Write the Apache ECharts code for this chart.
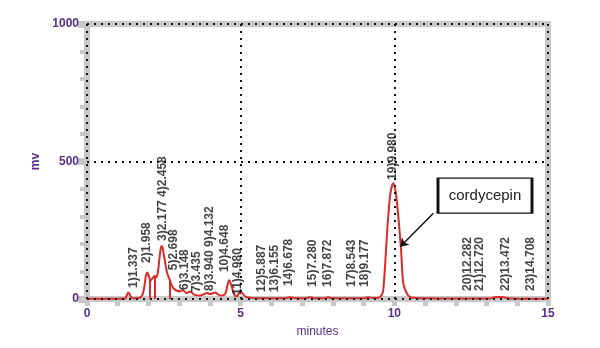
<!DOCTYPE html>
<html>
<head>
<meta charset="utf-8">
<script src="https://cdn.jsdelivr.net/npm/echarts@6/dist/echarts.min.js"></script>
<style>html,body{margin:0;padding:0;background:#fff;}#c{width:600px;height:348px;}</style>
</head>
<body>
<div id="c"></div>
<script>
// Chromatogram trace [minutes, mV]
var trace = [
  [0, 1], [1.2, 1], [1.26, 4], [1.31, 18], [1.345, 24], [1.38, 18], [1.44, 6], [1.52, 3], [1.62, 3], [1.72, 5],
  [1.80, 14], [1.86, 40], [1.91, 80], [1.96, 96], [2.0, 88], [2.04, 72], [2.08, 68], [2.13, 76], [2.18, 82],
  [2.22, 84], [2.27, 80], [2.32, 110], [2.37, 160], [2.42, 193], [2.45, 190], [2.50, 160], [2.55, 128],
  [2.60, 98], [2.66, 78], [2.70, 68], [2.75, 52], [2.81, 40], [2.92, 30], [3.03, 28], [3.10, 33], [3.17, 28],
  [3.24, 21], [3.30, 24], [3.35, 27], [3.42, 22], [3.51, 15], [3.68, 13], [3.80, 17], [3.90, 22], [4.0, 18],
  [4.08, 20], [4.17, 24], [4.25, 18], [4.33, 13], [4.45, 14], [4.52, 25], [4.58, 55], [4.63, 68], [4.68, 55],
  [4.76, 27], [4.84, 10], [4.90, 12], [4.96, 24], [5.0, 27], [5.05, 22], [5.14, 10], [5.30, 5], [5.6, 3],
  [6.0, 3], [6.45, 3], [6.6, 6], [6.75, 4], [7.1, 3], [7.26, 6], [7.4, 3], [7.75, 3], [7.85, 6], [7.95, 3],
  [8.5, 3], [9.0, 3], [9.15, 6], [9.3, 4], [9.45, 4], [9.53, 7], [9.62, 22], [9.66, 58], [9.73, 178],
  [9.80, 299], [9.88, 390], [9.97, 421], [10.05, 385], [10.13, 299], [10.22, 178], [10.29, 58], [10.40, 22],
  [10.51, 7], [10.7, 4], [11.0, 3], [11.6, 2], [12.5, 2], [13.1, 2], [13.25, 6], [13.4, 7], [13.55, 6],
  [13.75, 2], [14.5, 1], [15, 1]
];
// Integration drop lines [minutes, mV top]
var dropLines = [[2.04, 72], [2.20, 83], [2.70, 68]];
// Peak labels
var peakNames = ["1)1.337", "2)1.958", "3)2.177 4)2.458", "5)2.698", "6)3.148", "7)3.435", "8)3.940 9)4.132",
  "10)4.648", "11)4.980", "12)5.887", "13)6.155", "14)6.678", "15)7.280", "16)7.872", "17)8.543", "18)9.177",
  "19)9.980", "20)12.282", "21)12.720", "22)13.472", "23)14.708"];
var labelTimes = [1.53, 1.95, 2.47, 2.83, 3.19, 3.58, 4.0, 4.49, 4.91, 5.69, 6.12, 6.57, 7.35, 7.83, 8.62, 9.05,
  9.96, 12.40, 12.79, 13.63, 14.45];
var labelBase = [40, 131, 211, 105, 33, 25, 29, 98, 15, 25, 25, 47, 44, 44, 44, 44, 433, 29, 29, 29, 29];
// Annotation
var noteText = "cordycepin";
var notePos = [12.95, 376];
var arrowFrom = [11.27, 312];
var arrowTo = [10.19, 190];
var xTicks = [0, 5, 10, 15];
var yTicks = [0, 500, 1000];

var purple = '#55308a';
var gray = '#c8c8c8';
var red = '#dc2a2a';
var font = 'Liberation Sans, Arial, sans-serif';

var labelData = peakNames.map(function (n, i) { return { name: n, value: [labelTimes[i], labelBase[i]] }; });
var dropData = dropLines.map(function (d) { return [{ coord: [d[0], 0] }, { coord: [d[0], d[1]] }]; });
var gridLines = xTicks.map(function (v) { return { xAxis: v }; }).concat(yTicks.map(function (v) { return { yAxis: v }; }));

var chart = echarts.init(document.getElementById('c'), null, { renderer: 'canvas' });
chart.setOption({
  animation: false,
  textStyle: { fontFamily: font },
  grid: { left: 87, right: 52, top: 24, bottom: 49 },
  xAxis: [{
    type: 'value', min: 0, max: 15, interval: 5, position: 'bottom',
    axisLine: { show: true, onZero: false, lineStyle: { color: gray, width: 6, cap: 'square' } },
    axisTick: { show: true, length: 7, lineStyle: { color: gray, width: 5 } },
    minorTick: { show: true, splitNumber: 5, length: 7, lineStyle: { color: gray, width: 5 } },
    axisLabel: { color: purple, fontWeight: 'bold', fontSize: 12, margin: 9, fontFamily: font,
      formatter: function (v) { return String(v); } },
    splitLine: { show: false },
    name: 'minutes', nameLocation: 'middle', nameGap: 27,
    nameTextStyle: { color: purple, fontSize: 12, fontFamily: font }
  }, {
    type: 'value', min: 0, max: 15, position: 'top',
    axisLine: { show: true, onZero: false, lineStyle: { color: gray, width: 6, cap: 'square' } },
    axisTick: { show: false }, axisLabel: { show: false }, splitLine: { show: false }
  }],
  yAxis: [{
    type: 'value', min: 0, max: 1000, interval: 500, position: 'left',
    axisLine: { show: true, onZero: false, lineStyle: { color: gray, width: 6, cap: 'square' } },
    axisTick: { show: true, length: 9, lineStyle: { color: gray, width: 7 } },
    minorTick: { show: true, splitNumber: 5, length: 7, lineStyle: { color: gray, width: 4 } },
    axisLabel: { color: purple, fontWeight: 'bold', fontSize: 12, margin: 8, fontFamily: font,
      formatter: function (v) { return String(v); } },
    splitLine: { show: false },
    name: 'mv', nameLocation: 'middle', nameGap: 45,
    nameTextStyle: { color: purple, fontSize: 12, fontWeight: 'bold', fontFamily: font }
  }, {
    type: 'value', min: 0, max: 1000, position: 'right',
    axisLine: { show: true, onZero: false, lineStyle: { color: gray, width: 6, cap: 'square' } },
    axisTick: { show: false }, axisLabel: { show: false }, splitLine: { show: false }
  }],
  series: [{
    type: 'line', data: [], z: 1, silent: true,
    markLine: {
      silent: true, symbol: ['none', 'none'], label: { show: false },
      lineStyle: { color: '#111', width: 2, type: [2, 5] },
      data: gridLines
    }
  }, {
    type: 'line', data: trace, z: 3, smooth: 0.3, symbol: 'none',
    lineStyle: { color: red, width: 2 },
    markLine: {
      silent: true, symbol: ['none', 'none'], label: { show: false },
      lineStyle: { color: red, width: 2, type: 'solid' },
      data: dropData
    }
  }, {
    type: 'scatter', data: labelData, z: 4, symbolSize: 0, silent: true,
    label: {
      show: true, formatter: '{b}', rotate: 90, position: [0, 0], align: 'left', verticalAlign: 'middle',
      color: '#111', fontSize: 12, fontWeight: 'bold', fontFamily: font
    }
  }, {
    type: 'line', data: [], z: 5, silent: true,
    markLine: {
      silent: true, symbol: ['none', 'arrow'], symbolSize: 8, label: { show: false },
      lineStyle: { color: '#111', width: 1.5, type: 'solid' },
      data: [[{ coord: arrowFrom }, { coord: arrowTo }]]
    },
    markPoint: {
      silent: true,
      data: [{ coord: notePos, value: noteText, symbol: 'rect', symbolSize: [94, 35],
        itemStyle: { color: '#fff', borderColor: '#111', borderWidth: 1.8 },
        label: { show: true, formatter: noteText, color: '#222', fontSize: 15, fontFamily: font } }]
    }
  }]
});
</script>
</body>
</html>
